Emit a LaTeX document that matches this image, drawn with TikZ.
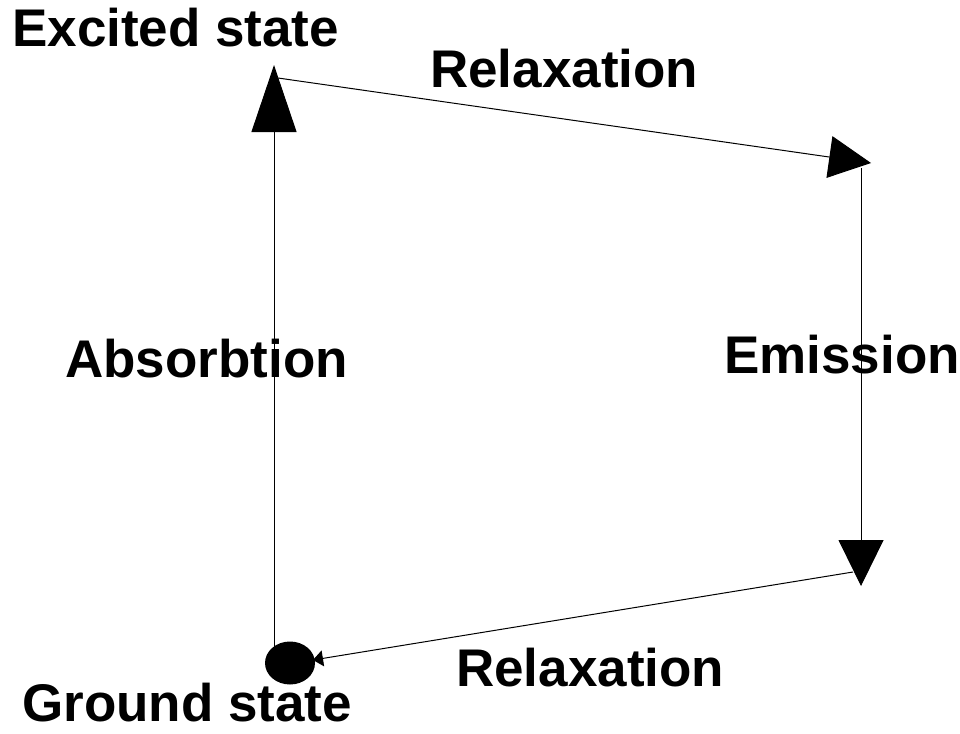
\documentclass[tikz,border=0pt]{standalone}
\usepackage{fontspec}
\setmainfont{Liberation Sans}
\usetikzlibrary{arrows.meta,shapes.geometric}
\begin{document}
\begin{tikzpicture}[x=1pt,y=-1pt,
  lbl/.style={anchor=base west,inner sep=0pt,font=\fontsize{53}{60}\selectfont\bfseries},
  conn/.style={line width=1pt,draw=black},
]
\useasboundingbox (0,0) rectangle (960,733);
% labels
\node[lbl] (lexc) at (12,47) {Excited state};
\node[lbl] (lrel1) at (430,88) {Relaxation};
\node[lbl] (labs) at (65,377) {Absorbtion};
\node[lbl] (lemi) at (724,373) {Emission};
\node[lbl] (lrel2) at (456,686) {Relaxation};
\node[lbl,text depth=0pt] (lgnd) at (22,721) {Ground state};
% points
\node[ellipse,fill=black,minimum width=50pt,minimum height=43pt,inner sep=0pt] (gnd) at (290,663) {};
\coordinate (g1) at (274,648);
\coordinate (exc) at (274,65);
\coordinate (exc2) at (278,78);
\coordinate (rt) at (871,163);
\coordinate (rt2) at (861,168);
\coordinate (rb) at (861,586);
\coordinate (rb2) at (853,572);
\coordinate (gin) at (313,660);
% connectors
\draw[conn,-{Triangle[length=67pt,width=45pt]}] (g1) -- (exc);
\draw[conn,-{Triangle[length=42pt,width=42pt]}] (exc2) -- (rt);
\draw[conn,-{Triangle[length=46pt,width=45pt]}] (rt2) -- (rb);
\draw[conn,-{Triangle[length=10pt,width=16pt]}] (rb2) -- (gin);
\end{tikzpicture}
\end{document}
